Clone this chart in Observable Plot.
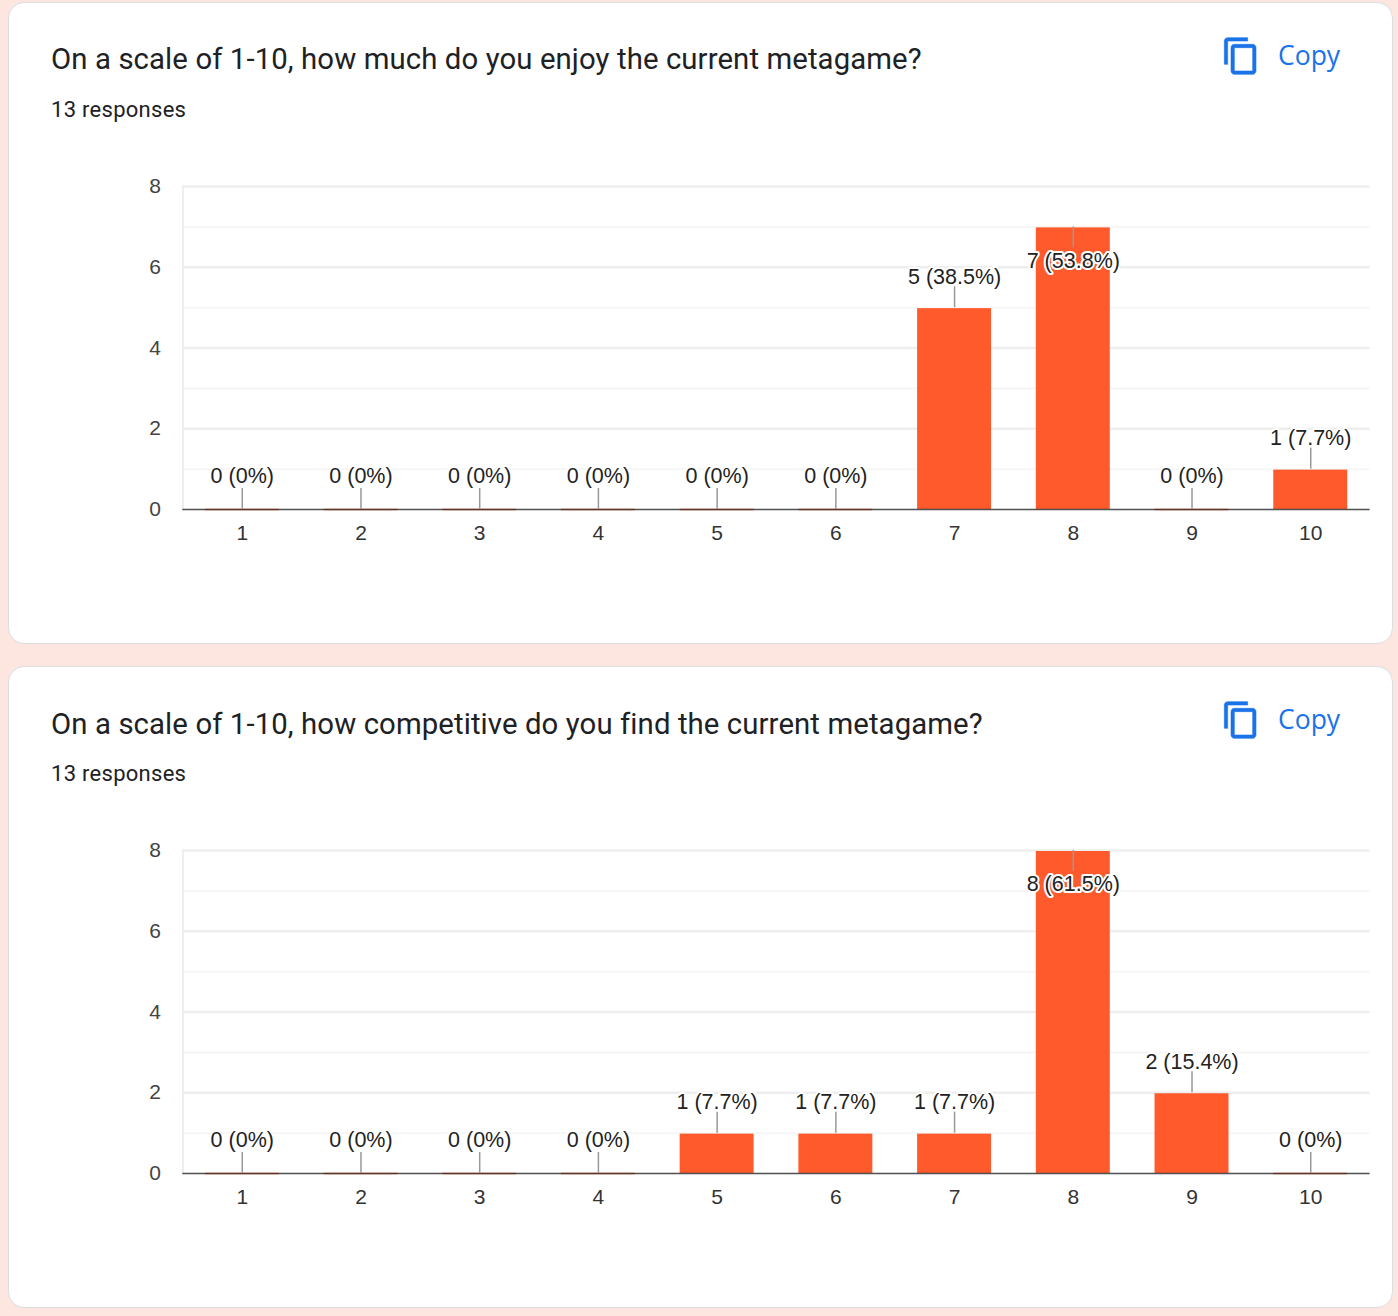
<!DOCTYPE html>
<html>
<head>
<meta charset="utf-8">
<script src="https://cdn.jsdelivr.net/npm/d3@7"></script>
<script src="https://cdn.jsdelivr.net/npm/@observablehq/plot@0.6"></script>
<style>
html,body{margin:0;padding:0;background:#fde6e0;width:1398px;height:1316px;overflow:hidden}
.card{position:absolute;left:7.5px;width:1383px;height:640px;background:#fff;border:1px solid #dadce0;border-radius:16px}
.t{position:absolute;white-space:nowrap;font-family:Roboto,sans-serif}
.title{left:51px;font-size:29.33px;color:#202124;line-height:36px;letter-spacing:.1px}
.resp{left:51px;font-size:22px;color:#202124;line-height:28px;letter-spacing:.28px}
.copy{left:1278px;font-family:"Open Sans",sans-serif;font-weight:500;font-size:26.5px;color:#1a73e8;line-height:30px}
.icon{position:absolute;left:1221px;width:40px;height:40px;fill:#1a73e8;stroke:#1a73e8;stroke-width:.35}
.plot{position:absolute;left:8px}
</style>
</head>
<body>
<div id="root"></div>
<script>
const ratings = ["1","2","3","4","5","6","7","8","9","10"];
const enjoyTitle = "On a scale of 1-10, how much do you enjoy the current metagame?";
const enjoyCounts = [0,0,0,0,0,0,5,7,0,1];
const enjoyLabels = ["0 (0%)","0 (0%)","0 (0%)","0 (0%)","0 (0%)","0 (0%)","5 (38.5%)","7 (53.8%)","0 (0%)","1 (7.7%)"];
const competitiveTitle = "On a scale of 1-10, how competitive do you find the current metagame?";
const competitiveCounts = [0,0,0,0,1,1,1,8,2,0];
const competitiveLabels = ["0 (0%)","0 (0%)","0 (0%)","0 (0%)","1 (7.7%)","1 (7.7%)","1 (7.7%)","8 (61.5%)","2 (15.4%)","0 (0%)"];
const responsesText = "13 responses";
const copyText = "Copy";
const majorTicks = [0,2,4,6,8];
const minorTicks = [1,3,5,7];

const iconPath = "M16 1H4c-1.1 0-2 .9-2 2v14h2V3h12V1zm3 4H8c-1.1 0-2 .9-2 2v14c0 1.1.9 2 2 2h11c1.1 0 2-.9 2-2V7c0-1.1-.9-2-2-2zm0 16H8V7h11v14z";

function chart(counts, labels) {
  const rows = ratings.map((r, i) => ({rating: r, count: counts[i], label: labels[i]}));
  const zero = rows.filter(d => d.count === 0);
  const above = rows.filter(d => d.count > 0 && d.count < 7);
  const below = rows.filter(d => d.count >= 7);
  const leader = 0.52;
  const textStyle = {
    x: "rating", y: "count", text: "label", fill: "#222",
    stroke: "white", strokeWidth: 4, paintOrder: "stroke", fontSize: 21.5
  };
  return Plot.plot({
    width: 1384, height: 430,
    marginLeft: 174.4, marginRight: 22.4, marginTop: 30, marginBottom: 77,
    style: {fontFamily: "'Liberation Sans',Arial,sans-serif", fontSize: "20px", background: "transparent", overflow: "visible"},
    x: {type: "band", domain: ratings, paddingInner: 0.377, paddingOuter: 0.1885, round: false, label: null},
    y: {domain: [0, 8], label: null},
    marks: [
      Plot.ruleY(minorTicks, {stroke: "#f6f6f6", strokeWidth: 2}),
      Plot.ruleY(majorTicks.slice(1), {stroke: "#eeeeee", strokeWidth: 2.4}),
      Plot.frame({anchor: "left", stroke: "#eeeeee", strokeWidth: 2}),
      Plot.barY(rows, {x: "rating", y1: 0, y2: "count", fill: "#ff5a2c", insetTop: 1}),
      Plot.tickY(zero, {x: "rating", y: "count", stroke: "#ff5a2c", strokeWidth: 1.6}),
      Plot.ruleY([0], {stroke: "#333", strokeWidth: 1.6, strokeOpacity: 0.85}),
      Plot.ruleX(zero.concat(above), {x: "rating", y1: "count", y2: d => d.count + leader, stroke: "#999", strokeWidth: 1.5}),
      Plot.ruleX(below, {x: "rating", y1: "count", y2: d => d.count - leader, stroke: "#999", strokeWidth: 1.5}),
      Plot.text(zero, {...textStyle, dy: -33}),
      Plot.text(above, {...textStyle, dy: -31}),
      Plot.text(below, {...textStyle, dy: 34}),
      Plot.axisY({ticks: majorTicks, tickSize: 0, tickPadding: 22, fill: "#444", fontSize: 21}),
      Plot.axisX({tickSize: 0, tickPadding: 16, fill: "#333", fontSize: 21})
    ]
  });
}

function addText(root, cls, text, top) {
  const d = document.createElement("div");
  d.className = "t " + cls;
  d.textContent = text;
  d.style.top = top + "px";
  root.appendChild(d);
}

function card(root, offset, cardTop, titleTop, title, counts, labels) {
  const c = document.createElement("div");
  c.className = "card";
  c.style.top = cardTop + "px";
  root.appendChild(c);
  addText(root, "title", title, titleTop);
  addText(root, "resp", responsesText, 96 + offset);
  addText(root, "copy", copyText, 40 + offset);
  const svgNS = "http://www.w3.org/2000/svg";
  const icon = document.createElementNS(svgNS, "svg");
  icon.setAttribute("viewBox", "0 0 24 24");
  icon.setAttribute("class", "icon");
  icon.style.top = (36 + offset) + "px";
  const p = document.createElementNS(svgNS, "path");
  p.setAttribute("d", iconPath);
  icon.appendChild(p);
  root.appendChild(icon);
  const wrap = document.createElement("div");
  wrap.className = "plot";
  wrap.style.top = (156 + offset) + "px";
  wrap.appendChild(chart(counts, labels));
  root.appendChild(wrap);
}

const root = document.getElementById("root");
card(root, 0, 1.5, 41, enjoyTitle, enjoyCounts, enjoyLabels);
card(root, 664, 666, 706, competitiveTitle, competitiveCounts, competitiveLabels);
</script>
</body>
</html>
